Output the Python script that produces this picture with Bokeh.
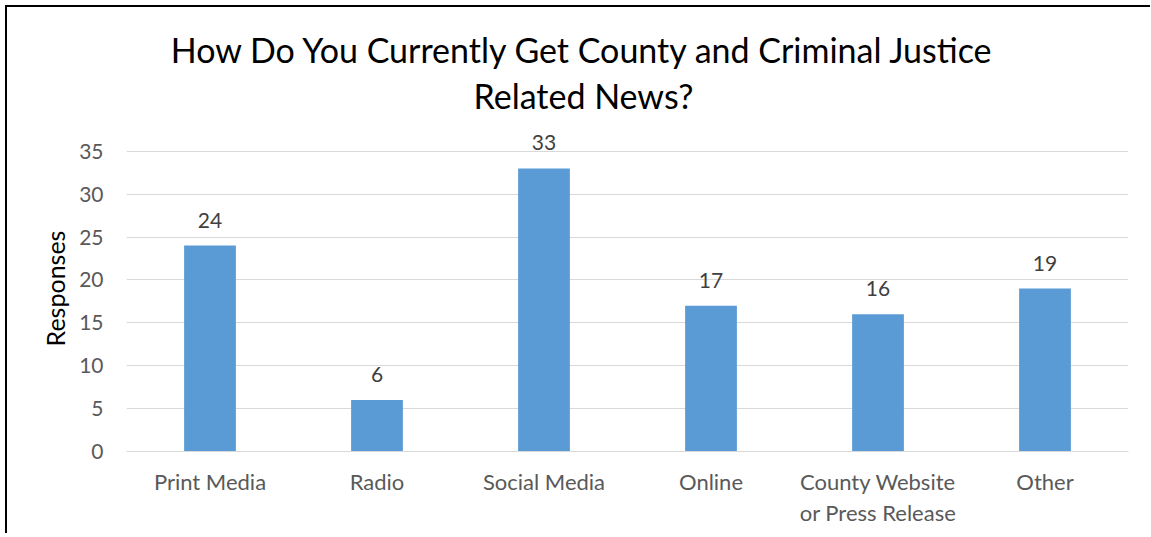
from bokeh.plotting import figure
from bokeh.models import ColumnDataSource, LabelSet, FixedTicker
from bokeh.layouts import column
from bokeh.core.properties import value
from bokeh.embed import file_html
from bokeh.resources import INLINE

categories = ["Print Media", "Radio", "Social Media", "Online", "County Website\nor Press Release", "Other"]
responses = [24, 6, 33, 17, 16, 19]
y_ticks = [0, 5, 10, 15, 20, 25, 30, 35]
title_lines = ["How Do You Currently Get County and Criminal Justice", "Related News?"]

FONT = "Lato"
W = 1143

# ---- title strip (its own figure so the two centred lines sit where the original has them)
TH = 118
tp = figure(width=W, height=TH, x_range=(0, W), y_range=(TH, 0),
            output_backend="svg", toolbar_location=None, tools="",
            x_axis_location=None, y_axis_location=None, frame_align=False,
            min_border_left=0, min_border_right=0, min_border_top=0, min_border_bottom=0)
tp.title.visible = False
tp.outline_line_color = None
tp.xgrid.visible = False
tp.ygrid.visible = False
tsrc = ColumnDataSource(data=dict(x=[576, 576], y=[42, 88], t=title_lines))
tp.text(x="x", y="y", text="t", source=tsrc, text_align="center", text_baseline="alphabetic",
        text_font=value(FONT), text_font_size="34px", text_color="#000000")

# ---- main chart
source = ColumnDataSource(data=dict(cat=categories, val=responses, lbl=[str(v) for v in responses]))

p = figure(x_range=categories, y_range=(0, 38), width=W, height=408,
           output_backend="svg", toolbar_location=None, tools="", frame_align=False,
           min_border_left=119, min_border_right=22, min_border_top=0, min_border_bottom=82)
p.title.visible = False

p.vbar(x="cat", top="val", width=0.31, source=source, color="#5B9BD5", line_color=None)

labels = LabelSet(x="cat", y="val", text="lbl", source=source, text_align="center",
                  text_baseline="alphabetic", y_offset=18, text_font=value(FONT),
                  text_font_size="21px", text_color="#404040")
p.add_layout(labels)

p.outline_line_color = None
p.xgrid.grid_line_color = None
p.ygrid.grid_line_color = "#D9D9D9"
p.ygrid.grid_line_width = 1

p.yaxis.ticker = FixedTicker(ticks=y_ticks)
p.yaxis.axis_line_color = None
p.yaxis.major_tick_line_color = None
p.yaxis.minor_tick_line_color = None
p.yaxis.major_label_standoff = 17
p.yaxis.major_label_text_font = FONT
p.yaxis.major_label_text_font_size = "21px"
p.yaxis.major_label_text_color = "#595959"
p.yaxis.axis_label = "Responses"
p.yaxis.axis_label_text_font = FONT
p.yaxis.axis_label_text_font_size = "25px"
p.yaxis.axis_label_text_font_style = "normal"
p.yaxis.axis_label_text_color = "#000000"
p.yaxis.axis_label_standoff = 6

p.xaxis.axis_line_color = "#D9D9D9"
p.xaxis.major_tick_line_color = None
p.xaxis.minor_tick_line_color = None
p.xaxis.major_label_standoff = 10
p.xaxis.major_label_text_font = FONT
p.xaxis.major_label_text_font_size = "22px"
p.xaxis.major_label_text_color = "#595959"
p.xaxis.major_label_text_line_height = 1.15

layout = column(tp, p, spacing=0)
layout.styles = {"border-left": "2px solid black", "border-top": "2px solid black",
                 "margin-left": "5px", "margin-top": "5px"}

open("out.html", "w").write(file_html(layout, INLINE))
